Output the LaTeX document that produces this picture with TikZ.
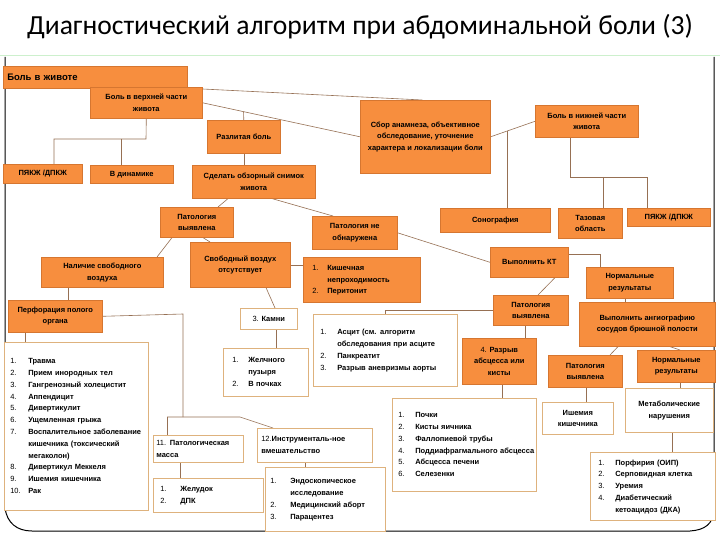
\documentclass[tikz,border=0pt]{standalone}
\usepackage{fontspec}
\setmainfont{Liberation Sans}
\newfontfamily\titlefont{Carlito}
\usetikzlibrary{calc,backgrounds}
\definecolor{ofill}{RGB}{247,142,62}
\definecolor{obord}{RGB}{214,118,48}
\definecolor{wbord}{RGB}{222,178,125}
\definecolor{lc}{RGB}{150,112,84}
\definecolor{paleg}{RGB}{205,240,205}
\tikzset{
  box/.style={anchor=north west, align=center, inner sep=1pt, line width=0.6pt,
    font=\bfseries\fontsize{7.5}{11.5}\selectfont},
  obox/.style={box, draw=obord, fill=ofill},
  wbox/.style={box, draw=wbord, fill=white},
  lst/.style={align=left, font=\bfseries\fontsize{7.5}{11.8}\selectfont},
  conn/.style={draw=lc, line width=0.6pt},
}
\newcommand\nm[1]{{\mdseries #1}}
\newcommand\bxo[6]{\node[obox,minimum width=#4,minimum height=#5] (#1) at (#2,#3) {#6};}
\newcommand\bxw[6]{\node[wbox,minimum width=#4,minimum height=#5] (#1) at (#2,#3) {#6};}
% name, x, y, height, xsep, textwidth, content
\newcommand\lsw[7]{\node[wbox,lst,minimum height=#4,inner xsep=#5,text width=#6] (#1) at (#2,#3) {#7};}
\newcommand\lso[7]{\node[obox,lst,minimum height=#4,inner xsep=#5,text width=#6] (#1) at (#2,#3) {#7};}
\begin{document}
\begin{tikzpicture}[x=1pt,y=-1pt]
\useasboundingbox (0,0) rectangle (720,540);
\node[font=\titlefont\fontsize{27.6}{32}\selectfont] (title) at (360,27) {Диагностический алгоритм при абдоминальной боли (3)};

% boxes
\node[obox,minimum width=184,minimum height=22,align=left,text width=176,inner xsep=4,
  font=\bfseries\fontsize{9.5}{11}\selectfont] (n1) at (3,66) {Боль в животе};
\bxo{n2}{90}{87}{112}{31}{Боль в верхней части\\живота}
\bxo{n3}{3}{164}{79}{19}{ПЯКЖ /ДПКЖ}
\bxo{n4}{90}{165}{83}{18}{В динамике}
\bxo{n5}{207}{120}{73}{33}{Разлитая боль}
\bxo{n6}{360}{100}{130}{73}{Сбор анамнеза, объективное\\обследование, уточнение\\характера и локализации боли}
\bxo{n7}{535}{105}{103}{32}{Боль в нижней части\\живота}
\bxo{n8}{192}{165}{123}{33}{Сделать обзорный снимок\\живота}
\bxo{n9}{160}{207}{73}{30}{Патология\\выявлена}
\bxo{n10}{312}{216}{85}{33}{Патология не\\обнаружена}
\bxo{n11}{440}{208}{110}{24}{Сонография}
\bxo{n12}{558}{208}{64}{30}{Тазовая\\область}
\bxo{n13}{627}{208}{83}{18}{ПЯКЖ /ДПКЖ}
\bxo{n14}{41}{257}{122}{30}{Наличие свободного\\воздуха}
\bxo{n15}{190}{242}{100}{45}{Свободный воздух\\отсутствует}
\lso{n16}{303}{257}{45}{9}{99}{\begin{tabular}{@{}p{15pt}@{}l@{}}\nm{1.}&Кишечная\\&непроходимость\\\nm{2.}&Перитонит\end{tabular}}
\bxo{n17}{490}{247}{78}{30}{Выполнить КТ}
\bxo{n18}{586}{267}{87}{31}{Нормальные\\результаты}
\bxo{n19}{8}{300}{94}{32}{Перфорация полого\\органа}
\bxw{n20}{240}{308}{57}{21}{\nm{3.} Камни}
\bxo{n21}{493}{295}{75}{30}{Патология\\выявлена}
\bxo{n22}{579}{302}{136}{44}{Выполнить ангиографию\\сосудов брюшной полости}
\lsw{n23}{4}{342}{168}{6}{132}{\begin{tabular}{@{}p{18pt}@{}l@{}}
\nm{1.}&Травма\\
\nm{2.}&Прием инородных тел\\
\nm{3.}&Гангренозный холецистит\\
\nm{4.}&Аппендицит\\
\nm{5.}&Дивертикулит\\
\nm{6.}&Ущемленная грыжа\\
\nm{7.}&Воспалительное заболевание\\
&кишечника (токсический\\
&мегаколон)\\
\nm{8.}&Дивертикул Меккеля\\
\nm{9.}&Ишемия кишечника\\
\nm{10.}&Рак
\end{tabular}}
\lsw{n24}{223}{348}{48}{9}{67}{\begin{tabular}{@{}p{16pt}@{}l@{}}\nm{1.}&Желчного\\&пузыря\\\nm{2.}&В почках\end{tabular}}
\lsw{n25}{313}{314}{72}{7}{130}{\begin{tabular}{@{}p{17pt}@{}l@{}}\nm{1.}&Асцит (см. алгоритм\\&обследования при асците\\\nm{2.}&Панкреатит\\\nm{3.}&Разрыв аневризмы аорты\end{tabular}}
\lsw{n26}{392}{398}{93}{6}{132}{\begin{tabular}{@{}p{17pt}@{}l@{}}
\nm{1.}&Почки\\
\nm{2.}&Кисты яичника\\
\nm{3.}&Фаллопиевой трубы\\
\nm{4.}&Поддиафрагмального абсцесса\\
\nm{5.}&Абсцесса печени\\
\nm{6.}&Селезенки
\end{tabular}}
\bxo{n27}{462}{338}{74}{46}{\nm{4.} Разрыв\\абсцесса или\\кисты}
\bxo{n28}{548}{355}{74}{32}{Патология\\выявлена}
\bxo{n29}{637}{350}{78}{32}{Нормальные\\результаты}
\bxw{n30}{542}{402}{71}{32}{Ишемия\\кишечника}
\bxw{n31}{625}{388}{88}{44}{Метаболические\\нарушения}
\lsw{n32}{590}{452}{68}{8}{109}{\begin{tabular}{@{}p{17pt}@{}l@{}}
\nm{1.}&Порфирия (ОИП)\\
\nm{2.}&Серповидная клетка\\
\nm{3.}&Уремия\\
\nm{4.}&Диабетический\\
&кетоацидоз (ДКА)
\end{tabular}}
\lsw{n33}{153}{435}{27}{3}{84}{\nm{11.} Патологическая\\масса}
\lsw{n34}{257}{428}{34}{4}{107}{\nm{12.}Инструменталь-ное\\вмешательство}
\lsw{n35}{153}{478}{34}{7}{96}{\begin{tabular}{@{}p{20pt}@{}l@{}}\nm{1.}&Желудок\\\nm{2.}&ДПК\end{tabular}}
\lsw{n36}{265}{467}{64}{5}{110}{\begin{tabular}{@{}p{20pt}@{}l@{}}
\nm{1.}&Эндоскопическое\\
&исследование\\
\nm{2.}&Медицинский аборт\\
\nm{3.}&Парацентез
\end{tabular}}

\begin{pgfonlayer}{background}
\fill[white] (0,0) rectangle (720,540);
\draw[paleg, line width=1pt] (0,56) -- (720,56);
\draw[black, line width=1pt] (5,57) -- (5,508) .. controls (7,523) and (17,531) .. (32,531)
  -- (690,531) .. controls (705,530) and (713,524) .. (714,510) -- (714,57);
\coordinate (j1) at (146,139);
\coordinate (ja) at (54,139);
\coordinate (jb) at (121,139);
\draw[conn] (n2.south) -- (j1) -- (ja) -- (ja |- n3.north);
\draw[conn] (jb) -- (jb |- n4.north);
\draw[conn] (n2.east) -- coordinate[pos=0.26] (j2) (n6.west);
\draw[conn] (n5.north) -- (j2);
\draw[conn] ([yshift=-2]n2.north east) -- ([xshift=-3]n6.north);
\draw[conn] (n5.south) -- (n5.south |- n8.north);
\draw[conn] ([xshift=36]n8.south west) -- ([xshift=58]n9.north west);
\draw[conn] ([xshift=80]n8.south west) -- ([xshift=21]n10.north west);
\draw[conn] (n6.east) -- coordinate[pos=0.38] (j3) (n7.west);
\draw[conn] (j3) -- (j3 |- n11.north);
\coordinate (j4) at (570,177);
\coordinate (j5) at (647,177);
\coordinate (j6) at (603,177);
\draw[conn] ([xshift=35]n7.south west) -- (j4) -- (j5) -- (j5 |- n13.north);
\draw[conn] (j6) -- (j6 |- n12.north);
\draw[conn] ([xshift=12]n9.south west) -- ([xshift=116]n14.north west);
\draw[conn] ([xshift=43]n9.south west) -- ([xshift=20]n15.north west);
\draw[conn] ([xshift=27]n14.south west) -- ([xshift=60]n19.north west);
\draw[conn] ([xshift=17]n19.south west) -- ([xshift=21]n23.north west);
\coordinate (j7) at (183,314);
\coordinate (j8) at (183,417);
\coordinate (j9) at (167,417);
\coordinate (j10) at (240,417);
\draw[conn] (n19.east) -- (j7) -- (j8);
\draw[conn] (j9) -- (j10) -- ([xshift=16]n34.north west);
\draw[conn] (j9) -- (j9 |- n33.north);
\draw[conn] ([xshift=27]n33.south west) -- ([xshift=27]n35.north west);
\draw[conn] ([xshift=48]n34.south west) -- ([xshift=40]n36.north west);
\draw[conn] (n15.east) -- (n15.east -| n16.west);
\draw[conn] ([xshift=76]n15.south west) -- ([xshift=35]n20.north west);
\draw[conn] ([xshift=36]n20.south west) -- ([xshift=53]n24.north west);
\draw[conn] (n10.east) -- (n17.west);
\draw[conn] ([xshift=65]n17.south west) -- ([xshift=45]n21.north west);
\draw[conn] ([yshift=8]n17.east) -| ([xshift=14]n18.north west);
\draw[conn] ([xshift=39]n18.south west) -- ([xshift=46]n22.north west);
\draw[conn] ([xshift=39]n22.south west) -- ([xshift=62]n28.north west);
\draw[conn] ([xshift=91]n22.south west) -- ([xshift=43]n29.north west);
\draw[conn] ([xshift=38]n28.south west) -- ([xshift=44]n30.north west);
\draw[conn] ([xshift=43]n29.south west) -- ([xshift=55]n31.north west);
\draw[conn] ([xshift=47]n31.south west) -- ([xshift=82]n32.north west);
\draw[conn] ([xshift=32]n21.south west) -- ([xshift=63]n27.north west);
\draw[conn] (n21.west) -| ([xshift=72]n25.north west);
\draw[conn] ([xshift=40]n27.south west) -- ([xshift=110]n26.north west);
\end{pgfonlayer}
\end{tikzpicture}
\end{document}
